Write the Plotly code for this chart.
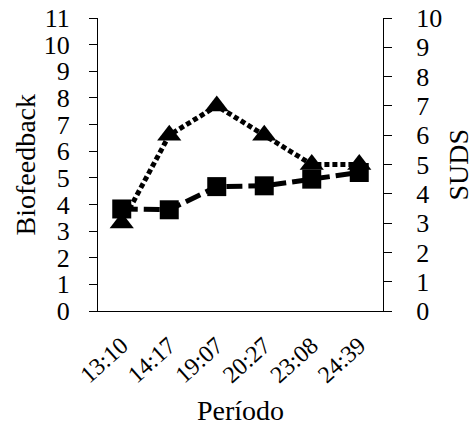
import plotly.graph_objects as go

periods = ["13:10", "14:17", "19:07", "20:27", "23:08", "24:39"]
biofeedback = [3.83, 3.8, 4.67, 4.7, 4.95, 5.2]
suds = [3, 6, 7, 6, 5, 5]

FONT = "Liberation Serif"

fig = go.Figure()
fig.add_trace(go.Scatter(
    x=periods, y=suds, yaxis="y2", mode="lines+markers", name="SUDS",
    line=dict(color="black", width=5, dash="5px,3px"),
    marker=dict(symbol="triangle-up", size=21, color="black"),
))
fig.add_trace(go.Scatter(
    x=periods, y=biofeedback, mode="lines+markers", name="Biofeedback",
    line=dict(color="black", width=5, dash="16px,6px"),
    marker=dict(symbol="square", size=19, color="black"),
))

axis_common = dict(showline=True, linecolor="black", linewidth=1, showgrid=False,
                   zeroline=False, ticks="outside", ticklen=8, tickcolor="black",
                   automargin=False,
                   tickfont=dict(family=FONT, size=26, color="black"))

fig.update_layout(
    width=475, height=432,
    margin=dict(l=98, r=92, t=18, b=121),
    paper_bgcolor="white", plot_bgcolor="white",
    showlegend=False,
    font=dict(family=FONT, color="black"),
    xaxis=dict(type="category", range=[-0.5, 5.5], showline=True, linecolor="black",
               linewidth=1, showgrid=False, zeroline=False, ticks="", automargin=False,
               tickangle=-42, ticklabelstandoff=10,
               tickfont=dict(family=FONT, size=24, color="black")),
    yaxis=dict(range=[0, 11], dtick=1, ticklabelstandoff=14, **axis_common),
    yaxis2=dict(range=[0, 10], dtick=1, overlaying="y", side="right", ticklabelstandoff=19,
                **axis_common),
    annotations=[
        dict(text="Biofeedback", xref="paper", yref="paper", x=0, y=0.5, xshift=-73,
             textangle=-90, showarrow=False, xanchor="center", yanchor="middle",
             font=dict(family=FONT, size=28, color="black")),
        dict(text="SUDS", xref="paper", yref="paper", x=1, y=0.5, xshift=75,
             textangle=-90, showarrow=False, xanchor="center", yanchor="middle",
             font=dict(family=FONT, size=28, color="black")),
        dict(text="Período", xref="paper", yref="paper", x=0.5, y=0, yshift=-99,
             showarrow=False, xanchor="center", yanchor="middle",
             font=dict(family=FONT, size=28, color="black")),
    ],
)

fig.write_html("out.html", post_script="document.body.style.margin='0';",
               config={"displayModeBar": False})
